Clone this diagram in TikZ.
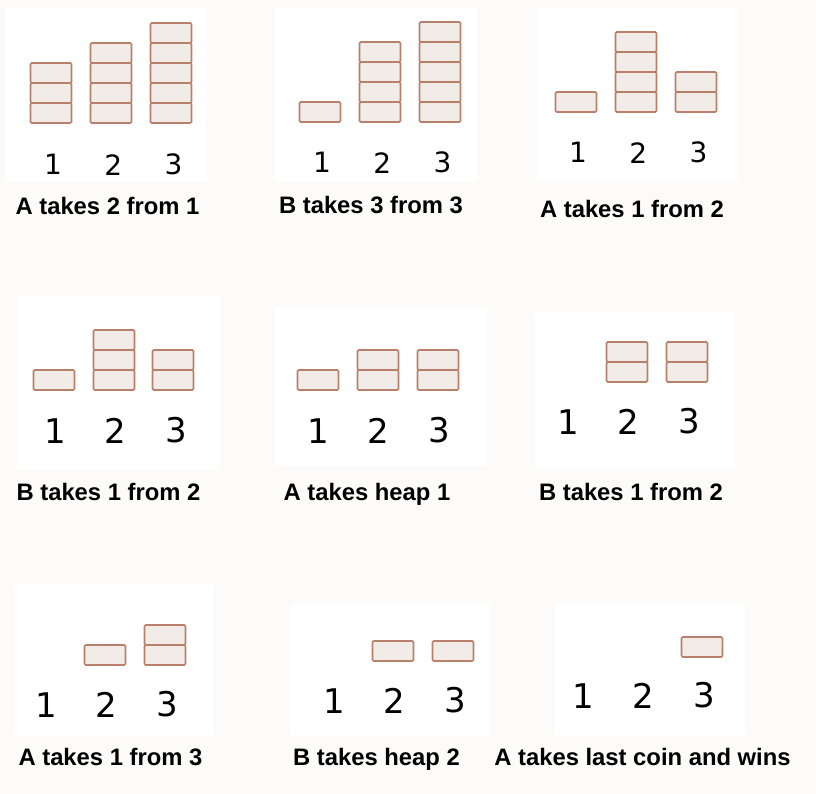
\documentclass[tikz,border=0pt]{standalone}
\usepackage{fontspec}
\setmainfont{Liberation Sans}
\newfontfamily\digitfont{DejaVu Sans}
\usepackage{tikz}
\usetikzlibrary{positioning}
\definecolor{coinedge}{RGB}{184,128,106}
\definecolor{coinfill}{RGB}{241,236,232}
\definecolor{pagebg}{RGB}{253,250,250}
\tikzset{
  coin/.style={draw=coinedge, fill=coinfill, line width=1.6pt, rounded corners=1.2pt},
  card/.style={fill=white},
  heapno/.style={font=\digitfont\fontsize{28}{28}\selectfont, inner sep=0pt, node distance=42pt},
  tallno/.style={font=\digitfont\fontsize{34}{34}\selectfont, inner sep=0pt, node distance=38.5pt},
  caption/.style={font=\bfseries\fontsize{23.8}{25}\selectfont, inner sep=0pt, anchor=base},
}
% heap of coins: centre x, bottom y, number of coins
\newcommand{\pile}[3]{%
  \foreach \k in {1,...,#3}
    \draw[coin] ({#1-20.5},{#2-20*(\k-1)}) rectangle ++(41,-20);
}

\begin{document}
\begin{tikzpicture}[x=1pt, y=-1pt]
    \fill[pagebg] (0,0) rectangle (816,794);
    \useasboundingbox (0,0) rectangle (816,794);
    % row 1
    \fill[card] (5,7) rectangle (207,182);
    \pile{51}{123}{3} \pile{111}{123}{4} \pile{171}{123}{5}
    \node[heapno, anchor=base] (p1a) at (53,175) {1};
    \node[heapno, right=of p1a] (p1b) {2};
    \node[heapno, right=of p1b] (p1c) {3};
    \node[caption] (c1) at (107.5,215) {A takes 2 from 1};

    \fill[card] (275,7) rectangle (477,182);
    \pile{320}{122}{1} \pile{380}{122}{4} \pile{440}{122}{5}
    \node[heapno, anchor=base] (p2a) at (322,173) {1};
    \node[heapno, right=of p2a] (p2b) {2};
    \node[heapno, right=of p2b] (p2c) {3};
    \node[caption] (c2) at (371,214) {B takes 3 from 3};

    \fill[card] (537,7) rectangle (738,180);
    \pile{576}{112}{1} \pile{636}{112}{4} \pile{696}{112}{2}
    \node[heapno, anchor=base] (p3a) at (578,163) {1};
    \node[heapno, right=of p3a] (p3b) {2};
    \node[heapno, right=of p3b] (p3c) {3};
    \node[caption] (c3) at (632,218) {A takes 1 from 2};

    % row 2
    \fill[card] (17,296) rectangle (220,470);
    \pile{54}{390}{1} \pile{114}{390}{3} \pile{173}{390}{2}
    \node[tallno, anchor=base] (p4a) at (55,443) {1};
    \node[tallno, right=of p4a] (p4b) {2};
    \node[tallno, right=of p4b] (p4c) {3};
    \node[caption] (c4) at (108.5,500) {B takes 1 from 2};

    \fill[card] (275,308) rectangle (487,466);
    \pile{318}{390}{1} \pile{378}{390}{2} \pile{438}{390}{2}
    \node[tallno, anchor=base] (p5a) at (318,443) {1};
    \node[tallno, right=of p5a] (p5b) {2};
    \node[tallno, right=of p5b] (p5c) {3};
    \node[caption] (c5) at (367,500) {A takes heap 1};

    \fill[card] (535,313) rectangle (735,468);
    \pile{627}{382}{2} \pile{687}{382}{2}
    \node[tallno, anchor=base] (p6a) at (568,434) {1};
    \node[tallno, right=of p6a] (p6b) {2};
    \node[tallno, right=of p6b] (p6c) {3};
    \node[caption] (c6) at (631,500) {B takes 1 from 2};

    % row 3
    \fill[card] (15,585) rectangle (213,735);
    \pile{105}{665}{1} \pile{165}{665}{2}
    \node[tallno, anchor=base] (p7a) at (46,717) {1};
    \node[tallno, right=of p7a] (p7b) {2};
    \node[tallno, right=of p7b] (p7c) {3};
    \node[caption] (c7) at (110.5,765) {A takes 1 from 3};

    \fill[card] (290,604) rectangle (490,735);
    \pile{393}{661}{1} \pile{453}{661}{1}
    \node[tallno, anchor=base] (p8a) at (334,713) {1};
    \node[tallno, right=of p8a] (p8b) {2};
    \node[tallno, right=of p8b] (p8c) {3};
    \node[caption] (c8) at (376.5,765) {B takes heap 2};

    \fill[card] (555,604) rectangle (745,735);
    \pile{702}{657}{1}
    \node[tallno, anchor=base] (p9a) at (583,708) {1};
    \node[tallno, right=of p9a] (p9b) {2};
    \node[tallno, right=of p9b] (p9c) {3};
    \node[caption] (c9) at (642.5,765) {A takes last coin and wins};
  \end{tikzpicture}
\end{document}
